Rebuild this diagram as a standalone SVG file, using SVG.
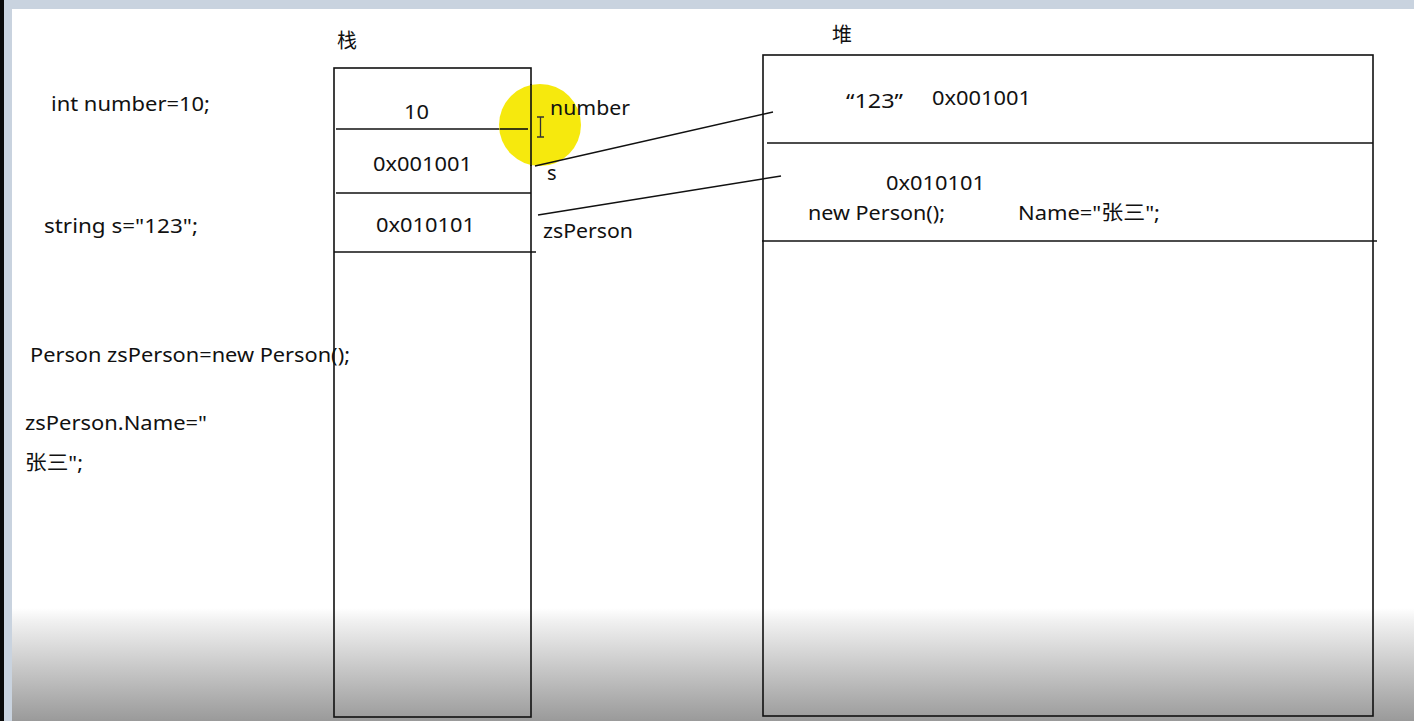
<svg xmlns="http://www.w3.org/2000/svg" width="1414" height="721" viewBox="0 0 1414 721">
<defs>
<linearGradient id="fade" x1="0" y1="0" x2="0" y2="1">
<stop offset="0" stop-color="#ffffff"/>
<stop offset="0.12" stop-color="#f0f0f0"/>
<stop offset="1" stop-color="#9a9a9a"/>
</linearGradient>
<style>
text{font-family:"Noto Sans","Noto Sans CJK SC",sans-serif;fill:#111;font-size:20px}
.b{fill:none;stroke:#111;stroke-width:1.6}
.c{stroke:#111;stroke-width:1.4;fill:none}
</style>
</defs>
<rect x="0" y="0" width="1414" height="721" fill="#ffffff"/>
<rect x="0" y="608" width="1414" height="113" fill="url(#fade)"/>
<rect x="0" y="0" width="1414" height="9" fill="#c9d3df"/>
<rect x="0" y="0" width="12" height="721" fill="#c9d3df"/>
<rect x="0" y="0" width="4" height="721" fill="#0a0a0a"/>

<g id="code">
<text x="51" y="111" textLength="159" lengthAdjust="spacingAndGlyphs">int number=10;</text>
<text x="44" y="233" textLength="154" lengthAdjust="spacingAndGlyphs">string s="123";</text>
<text x="30" y="362" textLength="320" lengthAdjust="spacingAndGlyphs">Person zsPerson=new Person();</text>
<text x="25" y="430" textLength="182" lengthAdjust="spacingAndGlyphs">zsPerson.Name="</text>
<text x="25" y="470" textLength="58" lengthAdjust="spacingAndGlyphs">张三";</text>
</g>

<g id="stack">
<text x="337" y="48">栈</text>
<rect class="b" x="334" y="68" width="197" height="649"/>
<line class="b" x1="336" y1="129" x2="528" y2="129"/>
<line class="b" x1="336" y1="193" x2="531" y2="193"/>
<line class="b" x1="334" y1="252" x2="536" y2="252"/>
<text x="404" y="119" textLength="25" lengthAdjust="spacingAndGlyphs">10</text>
<text x="373" y="171" textLength="99" lengthAdjust="spacingAndGlyphs">0x001001</text>
<text x="376" y="232" textLength="99" lengthAdjust="spacingAndGlyphs">0x010101</text>
</g>

<g id="highlight">
<circle cx="540" cy="125" r="41" fill="#f6e800" opacity="0.95"/>
<line class="b" x1="531" y1="84" x2="531" y2="166"/>
<line class="b" x1="500" y1="129" x2="528" y2="129"/>
<path d="M537 117h7M537 137h7M540.5 117v20" stroke="#333" stroke-width="1.3" fill="none"/>
</g>

<g id="labels">
<text x="550" y="115" textLength="80" lengthAdjust="spacingAndGlyphs">number</text>
<text x="547" y="180">s</text>
<text x="543" y="238" textLength="90" lengthAdjust="spacingAndGlyphs">zsPerson</text>
</g>

<g id="heap">
<text x="832" y="42">堆</text>
<rect class="b" x="763" y="55" width="610" height="661"/>
<line class="b" x1="767" y1="143" x2="1373" y2="143"/>
<line class="b" x1="762" y1="241" x2="1377" y2="241"/>
<text x="846" y="108" textLength="57" lengthAdjust="spacingAndGlyphs">“123”</text>
<text x="932" y="105" textLength="99" lengthAdjust="spacingAndGlyphs">0x001001</text>
<text x="886" y="190" textLength="99" lengthAdjust="spacingAndGlyphs">0x010101</text>
<text x="808" y="220" textLength="137" lengthAdjust="spacingAndGlyphs">new Person();</text>
<text x="1018" y="220" textLength="142" lengthAdjust="spacingAndGlyphs">Name="张三";</text>
</g>

<g id="connectors">
<line class="c" x1="535" y1="166" x2="773" y2="112"/>
<line class="c" x1="538" y1="215" x2="781" y2="176"/>
</g>
</svg>
